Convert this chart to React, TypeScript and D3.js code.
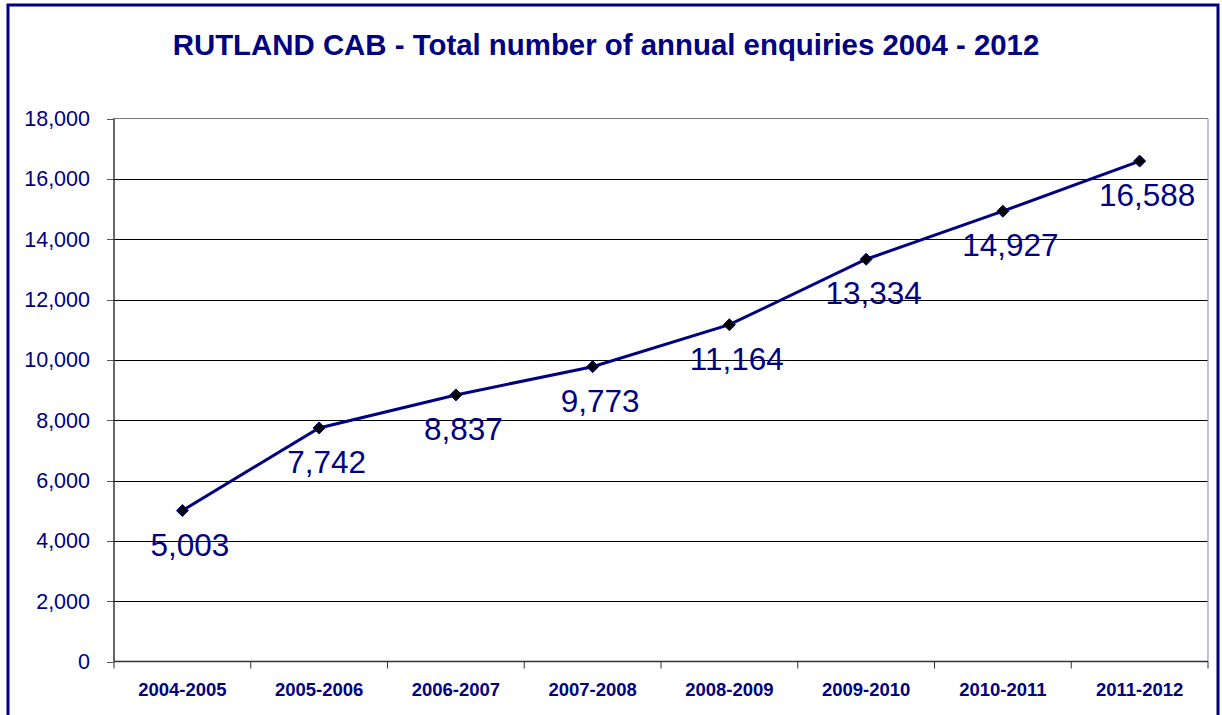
import React from "react";
import * as d3 from "d3";

const categories = ["2004-2005", "2005-2006", "2006-2007", "2007-2008", "2008-2009", "2009-2010", "2010-2011", "2011-2012"];
const enquiries = [5003, 7742, 8837, 9773, 11164, 13334, 14927, 16588];
const yTicks = [0, 2000, 4000, 6000, 8000, 10000, 12000, 14000, 16000, 18000];
const title = "RUTLAND CAB - Total number of annual enquiries 2004 - 2012";

const W = 1222, H = 715;
const NAVY = "#000080";
const m = { left: 114, right: 1208, top: 118.5, bottom: 661.5 };

export default function App() {
  const x = d3.scaleBand<string>().domain(categories).range([m.left, m.right]).padding(0);
  const y = d3.scaleLinear().domain([0, 18000]).range([m.bottom, m.top]);
  const fmt = d3.format(",");
  const cx = (c: string) => (x(c) as number) + x.bandwidth() / 2;
  const line = d3.line<number>().x((_, i) => cx(categories[i])).y((v) => y(v));
  const font = "Arial, 'Liberation Sans', Helvetica, sans-serif";
  const boundaries = [...categories.map((c) => x(c) as number), m.right];

  return (
    <svg width={W} height={H} style={{ position: "absolute", left: 0, top: 0, background: "#fff" }} fontFamily={font}>
      <rect x={0} y={0} width={W} height={H} fill="#fff" />
      <rect x={8} y={5} width={1210} height={720} fill="none" stroke={NAVY} strokeWidth={3} />
      <text x={606} y={55} textAnchor="middle" fontSize={29.4} fontWeight="bold" fill={NAVY}>{title}</text>
      {yTicks.map((t) => (
        <g key={t}>
          {t > 0 && t < 18000 && <line x1={m.left} x2={m.right} y1={Math.round(y(t)) + 0.5} y2={Math.round(y(t)) + 0.5} stroke="#000" strokeWidth={1} />}
          <line x1={107} x2={m.left} y1={Math.round(y(t)) + 0.5} y2={Math.round(y(t)) + 0.5} stroke="#555" strokeWidth={1} />
          <text x={90} y={y(t)} dy="0.35em" textAnchor="end" fontSize={21.5} fill={NAVY}>{fmt(t)}</text>
        </g>
      ))}
      <line x1={m.left} x2={m.right} y1={m.top} y2={m.top} stroke="#777" strokeWidth={1.2} />
      <line x1={m.right} x2={m.right} y1={m.top} y2={m.bottom} stroke="#9a9ac8" strokeWidth={1.2} />
      <line x1={m.left} x2={m.left} y1={m.top} y2={m.bottom} stroke="#333" strokeWidth={1.5} />
      <line x1={m.left} x2={m.right} y1={m.bottom} y2={m.bottom} stroke="#333" strokeWidth={1.5} />
      {boundaries.map((b, i) => (
        <line key={i} x1={b} x2={b} y1={m.bottom} y2={m.bottom + 7} stroke="#333" strokeWidth={1} />
      ))}
      {categories.map((c) => (
        <text key={c} x={cx(c)} y={696} textAnchor="middle" fontSize={18.5} fontWeight="bold" fill={NAVY}>{c}</text>
      ))}
      <path d={line(enquiries) || ""} fill="none" stroke={NAVY} strokeWidth={3} />
      {enquiries.map((v, i) => {
        const px = cx(categories[i]);
        const py = y(v);
        const s = 6;
        return (
          <g key={i}>
            <path d={`M${px},${py - s}L${px + s},${py}L${px},${py + s}L${px - s},${py}Z`} fill="#000" stroke={NAVY} strokeWidth={1} />
            <text x={px + 7.5} y={py + 45} textAnchor="middle" fontSize={31.5} fill={NAVY}>{fmt(v)}</text>
          </g>
        );
      })}
    </svg>
  );
}
